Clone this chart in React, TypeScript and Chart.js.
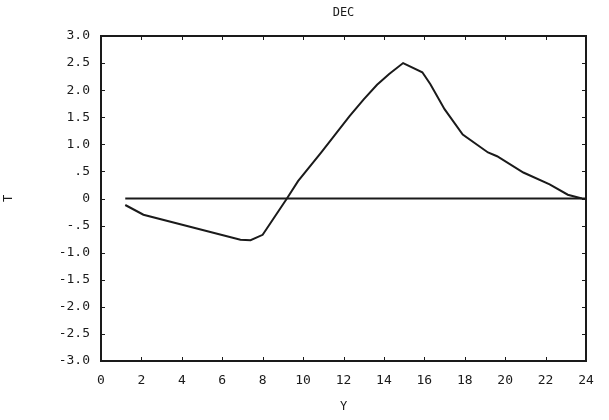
import React, { useEffect, useRef } from "react";
import { Chart, registerables } from "chart.js";

Chart.register(...registerables);

const titleText = "DEC";
const xTitle = "Y";
const yTitle = "T";
const xValues = [1.2, 2.1, 6.9, 7.4, 8.0, 9.2, 9.75, 10.9, 12.3, 13.0, 13.66, 14.26, 14.95, 15.9, 16.3, 17.0, 17.9, 19.15, 19.6, 20.9, 22.2, 23.1, 23.8];
const yValues = [-0.12, -0.3, -0.76, -0.77, -0.67, 0.0, 0.32, 0.85, 1.52, 1.83, 2.1, 2.3, 2.5, 2.33, 2.11, 1.65, 1.18, 0.85, 0.78, 0.48, 0.26, 0.07, 0.0];
const zeroLineX = [1.2, 24];
const zeroLineY = [0, 0];
const yTickLabels: Record<string, string> = {
  "3": "3.0", "2.5": "2.5", "2": "2.0", "1.5": "1.5", "1": "1.0", "0.5": ".5", "0": "0",
  "-0.5": "-.5", "-1": "-1.0", "-1.5": "-1.5", "-2": "-2.0", "-2.5": "-2.5", "-3": "-3.0",
};

const FONT = "'DejaVu Sans Mono', monospace";
const INK = "#1a1a1a";

export default function App() {
  const ref = useRef<HTMLCanvasElement>(null);
  useEffect(() => {
    document.body.style.margin = "0";
    const framePlugin = {
      id: "frame",
      afterDraw(chart: any) {
        const { ctx, chartArea: a, scales } = chart;
        ctx.save();
        ctx.strokeStyle = INK;
        ctx.lineWidth = 2;
        ctx.strokeRect(a.left, a.top, a.right - a.left, a.bottom - a.top);
        ctx.lineWidth = 1;
        const ys = scales.y;
        for (let v = -3; v <= 3.001; v += 0.5) {
          const p = Math.round(ys.getPixelForValue(v)) + 0.5;
          ctx.beginPath();
          ctx.moveTo(a.left, p);
          ctx.lineTo(a.left + 4, p);
          ctx.moveTo(a.right, p);
          ctx.lineTo(a.right - 4, p);
          ctx.stroke();
        }
        const xs = scales.x;
        for (let v = 0; v <= 24; v += 2) {
          const p = Math.round(xs.getPixelForValue(v)) + 0.5;
          ctx.beginPath();
          ctx.moveTo(p, a.bottom);
          ctx.lineTo(p, a.bottom - 4);
          ctx.moveTo(p, a.top);
          ctx.lineTo(p, a.top + 4);
          ctx.stroke();
        }
        ctx.fillStyle = INK;
        ctx.font = `12px ${FONT}`;
        ctx.textAlign = "center";
        ctx.textBaseline = "middle";
        ctx.fillText(titleText, (a.left + a.right) / 2, 13);
        ctx.restore();
      },
    };
    const chart = new Chart(ref.current!, {
      type: "line",
      data: {
        datasets: [
          {
            data: xValues.map((x, i) => ({ x, y: yValues[i] })),
            borderColor: INK,
            borderWidth: 2,
            pointRadius: 0,
            tension: 0,
          },
          {
            data: zeroLineX.map((x, i) => ({ x, y: zeroLineY[i] })),
            borderColor: INK,
            borderWidth: 2,
            pointRadius: 0,
          },
        ],
      },
      options: {
        animation: false,
        responsive: false,
        layout: { padding: { top: 36, right: 23, left: 0, bottom: 0 } },
        plugins: { legend: { display: false }, tooltip: { enabled: false }, title: { display: false } },
        scales: {
          x: {
            type: "linear",
            min: 0,
            max: 24,
            afterFit(s: any) { s.height = 59; },
            grid: { display: false, drawTicks: false },
            border: { display: false },
            ticks: { stepSize: 2, color: INK, font: { family: FONT, size: 13 }, padding: 12, maxRotation: 0 },
            title: { display: true, text: xTitle, color: INK, font: { family: FONT, size: 12 }, padding: { top: 2, bottom: 6 } },
          },
          y: {
            type: "linear",
            min: -3,
            max: 3,
            afterFit(s: any) { s.width = 101; },
            grid: { display: false, drawTicks: false },
            border: { display: false },
            ticks: {
              stepSize: 0.5,
              color: INK,
              font: { family: FONT, size: 13 },
              padding: 11,
              callback: (v: any) => yTickLabels[String(v)] ?? String(v),
            },
            title: { display: true, text: yTitle, color: INK, font: { family: FONT, size: 12 }, padding: { top: 2, bottom: 0 } },
          },
        },
      },
      plugins: [framePlugin],
    });
    return () => chart.destroy();
  }, []);
  return (
    <div style={{ width: 609, height: 420, background: "#fff" }}>
      <canvas ref={ref} width={609} height={420} />
    </div>
  );
}
